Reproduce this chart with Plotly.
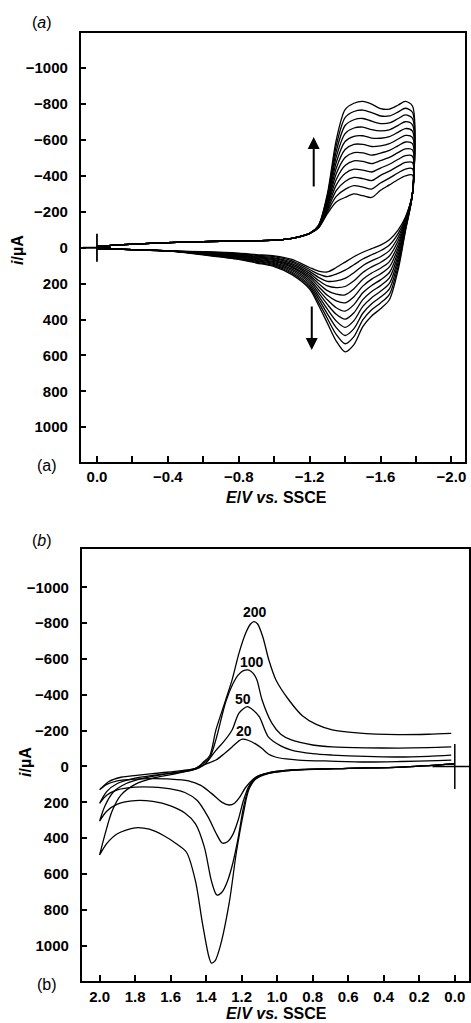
import plotly.graph_objects as go

# ---------------- Panel (a): repeated cycles (film growth) ----------------
a_foot_E = [0.0, -0.2, -0.4, -0.6, -0.8, -1.0, -1.1, -1.2]
a_foot_i = [-8, -20, -28, -34, -38, -42, -52, -80]

a_up_E = [-1.25, -1.30, -1.35, -1.40, -1.45, -1.50, -1.55, -1.60, -1.65, -1.70, -1.74, -1.78]
a_up_i = [
    [-110, -190, -255, -280, -300, -290, -280, -320, -350, -380, -400, -405],
    [-111, -200, -286, -325, -346, -338, -327, -361, -388, -418, -438, -440],
    [-113, -210, -318, -369, -392, -385, -374, -403, -427, -455, -475, -475],
    [-114, -220, -349, -414, -438, -433, -422, -444, -465, -493, -513, -510],
    [-115, -230, -380, -458, -484, -481, -469, -485, -503, -531, -551, -545],
    [-117, -240, -412, -503, -530, -529, -516, -527, -542, -569, -589, -580],
    [-118, -250, -443, -547, -576, -576, -564, -568, -580, -606, -626, -615],
    [-120, -260, -475, -592, -621, -624, -611, -610, -619, -644, -664, -650],
    [-121, -270, -506, -636, -667, -672, -658, -651, -657, -682, -702, -685],
    [-122, -280, -537, -681, -713, -720, -705, -692, -695, -720, -740, -720],
    [-124, -290, -569, -725, -759, -767, -753, -734, -734, -757, -777, -755],
    [-125, -300, -600, -770, -805, -815, -800, -775, -772, -795, -815, -790],
]

a_down_E = [-1.78, -1.74, -1.70, -1.65, -1.60, -1.55, -1.50, -1.45, -1.40, -1.35,
            -1.30, -1.25, -1.20, -1.10, -1.00, -0.90, -0.80, -0.60]
a_down_i = [
    [-300, -170, -100, -45, -15, 5, 25, 50, 80, 110, 135, 130, 110, 65, 45, 38, 30, 22],
    [-300, -163, -80, -15, 17, 39, 63, 95, 125, 147, 161, 147, 121, 73, 50, 42, 33, 24],
    [-300, -155, -60, 16, 50, 73, 100, 139, 171, 185, 187, 165, 132, 80, 56, 47, 36, 25],
    [-300, -148, -40, 46, 82, 107, 138, 184, 216, 222, 213, 182, 143, 88, 61, 51, 40, 27],
    [-300, -141, -20, 77, 114, 141, 176, 228, 262, 259, 239, 199, 154, 96, 67, 55, 43, 29],
    [-300, -134, 0, 107, 146, 175, 214, 273, 307, 296, 265, 216, 165, 104, 72, 59, 46, 30],
    [-300, -126, 20, 138, 179, 210, 251, 317, 353, 334, 290, 234, 175, 111, 78, 64, 49, 32],
    [-300, -119, 40, 168, 211, 244, 289, 362, 398, 371, 316, 251, 186, 119, 83, 68, 52, 34],
    [-300, -112, 60, 199, 243, 278, 327, 406, 444, 408, 342, 268, 197, 127, 89, 72, 55, 35],
    [-300, -105, 80, 229, 275, 312, 365, 451, 489, 445, 368, 285, 208, 135, 94, 76, 59, 37],
    [-300, -97, 100, 260, 308, 346, 402, 495, 535, 483, 394, 303, 219, 142, 100, 81, 62, 38],
    [-300, -90, 120, 290, 340, 380, 440, 540, 580, 520, 420, 320, 230, 150, 105, 85, 65, 40],
]
a_tail_E = [-0.4, -0.2, 0.0]
a_tail_i = [18, 11, 5]

a_cross_E = [0.0]
a_cross_i = [0]
a_arrow_up = dict(E=-1.223, i_from=-333, i_to=-617)
a_arrow_down = dict(E=-1.212, i_from=319, i_to=570)

# ---------------- Panel (b): scan-rate series ----------------
b_rates = ["20", "50", "100", "200"]

b20_fwd_E = [2.0, 1.96, 1.9, 1.8, 1.7, 1.6, 1.5, 1.43, 1.37, 1.31, 1.27, 1.24, 1.21, 1.18, 1.14, 1.1, 1.0, 0.9, 0.6, 0.3, 0.0]
b20_fwd_i = [130, 100, 80, 70, 68, 70, 80, 105, 150, 200, 215, 205, 170, 120, 75, 50, 30, 20, 10, 3, -15]
b20_rev_E = [2.0, 1.95, 1.88, 1.78, 1.65, 1.55, 1.46, 1.41, 1.345, 1.30, 1.254, 1.22, 1.196, 1.16, 1.12, 1.085, 1.05, 1.01, 0.95, 0.88, 0.7, 0.5, 0.3, 0.1, 0.02]
b20_rev_i = [130, 85, 60, 48, 35, 25, 10, -10, -36, -70, -109, -140, -153, -145, -125, -100, -70, -53, -42, -36, -30, -25, -28, -33, -36]

b50_fwd_E = [2.0, 1.96, 1.9, 1.8, 1.7, 1.6, 1.52, 1.45, 1.39, 1.34, 1.31, 1.28, 1.25, 1.22, 1.19, 1.16, 1.12, 1.05, 0.9, 0.6, 0.3, 0.0]
b50_fwd_i = [205, 160, 130, 115, 115, 125, 145, 190, 280, 380, 427, 420, 380, 300, 190, 110, 60, 35, 18, 10, 3, -15]
b50_rev_E = [2.0, 1.96, 1.9, 1.8, 1.7, 1.6, 1.5, 1.44, 1.40, 1.345, 1.30, 1.254, 1.215, 1.168, 1.13, 1.10, 1.05, 0.98, 0.92, 0.8, 0.69, 0.5, 0.32, 0.15, 0.02]
b50_rev_i = [205, 140, 95, 65, 50, 38, 25, 8, -20, -90, -140, -204, -298, -334, -310, -277, -165, -115, -92, -72, -64, -56, -53, -57, -64]

b100_fwd_E = [2.0, 1.96, 1.9, 1.8, 1.7, 1.6, 1.52, 1.46, 1.41, 1.37, 1.34, 1.31, 1.28, 1.25, 1.22, 1.19, 1.16, 1.12, 1.05, 0.9, 0.6, 0.3, 0.0]
b100_fwd_i = [305, 250, 210, 190, 195, 220, 260, 320, 450, 640, 717, 700, 640, 540, 400, 230, 120, 65, 35, 18, 10, 3, -15]
b100_rev_E = [2.0, 1.97, 1.92, 1.85, 1.75, 1.65, 1.55, 1.47, 1.42, 1.38, 1.345, 1.29, 1.25, 1.22, 1.19, 1.159, 1.135, 1.114, 1.085, 1.03, 0.98, 0.92, 0.8, 0.69, 0.5, 0.32, 0.15, 0.02]
b100_rev_i = [305, 220, 140, 95, 65, 45, 30, 15, -15, -50, -150, -360, -460, -510, -535, -538, -520, -483, -371, -242, -180, -148, -120, -109, -104, -103, -105, -109]

b200_fwd_E = [2.0, 1.96, 1.9, 1.8, 1.72, 1.64, 1.57, 1.51, 1.46, 1.42, 1.385, 1.37, 1.35, 1.32, 1.27, 1.23, 1.19, 1.16, 1.12, 1.05, 0.9, 0.6, 0.3, 0.0]
b200_fwd_i = [494, 430, 375, 342, 350, 385, 430, 480, 640, 880, 1060, 1097, 1085, 1000, 760, 480, 260, 130, 70, 40, 20, 10, 3, -15]
b200_rev_E = [2.0, 1.97, 1.93, 1.88, 1.8, 1.7, 1.6, 1.5, 1.45, 1.42, 1.38, 1.345, 1.29, 1.254, 1.215, 1.177, 1.15, 1.131, 1.11, 1.08, 1.047, 1.007, 0.934, 0.86, 0.78, 0.69, 0.55, 0.32, 0.15, 0.02]
b200_rev_i = [494, 380, 250, 160, 100, 65, 45, 25, 10, -20, -60, -204, -371, -483, -633, -745, -795, -808, -795, -720, -594, -483, -371, -285, -235, -205, -188, -178, -180, -185]

b_label_E = [1.187, 1.19, 1.14, 1.125]
b_label_i = [-198, -377, -585, -860]

b_cross_E = [0.0]
b_cross_i = [0]

# ---------------- figure ----------------
W, H = 471, 1023
FONT = "Arial, Liberation Sans, sans-serif"
LW = 1.3

fig = go.Figure()

for k in range(len(a_up_i)):
    fig.add_trace(go.Scatter(
        x=a_foot_E + a_up_E + a_down_E + a_tail_E,
        y=a_foot_i + a_up_i[k] + a_down_i[k] + a_tail_i,
        mode="lines", line=dict(color="black", width=LW, shape="spline", smoothing=0.8),
        xaxis="x", yaxis="y", showlegend=False, hoverinfo="skip"))

fig.add_trace(go.Scatter(x=a_cross_E, y=a_cross_i, mode="markers",
                         marker=dict(symbol="cross-thin", size=20, line=dict(color="black", width=1.8)),
                         xaxis="x", yaxis="y", showlegend=False, hoverinfo="skip"))

b_series = [
    (b20_fwd_E, b20_fwd_i, b20_rev_E, b20_rev_i),
    (b50_fwd_E, b50_fwd_i, b50_rev_E, b50_rev_i),
    (b100_fwd_E, b100_fwd_i, b100_rev_E, b100_rev_i),
    (b200_fwd_E, b200_fwd_i, b200_rev_E, b200_rev_i),
]
for fE, fi, rE, ri in b_series:
    fig.add_trace(go.Scatter(
        x=fE[::-1] + rE, y=fi[::-1] + ri,
        mode="lines", line=dict(color="black", width=LW, shape="spline", smoothing=0.8),
        xaxis="x2", yaxis="y2", showlegend=False, hoverinfo="skip"))

fig.add_trace(go.Scatter(x=b_cross_E, y=b_cross_i, mode="markers",
                         marker=dict(symbol="cross-thin", size=32, line=dict(color="black", width=1.5)),
                         xaxis="x2", yaxis="y2", showlegend=False, hoverinfo="skip"))

tickfont = dict(family=FONT, size=15, color="black", weight="bold")
axis_common = dict(showline=True, linecolor="black", linewidth=1.5, mirror=True,
                   ticks="inside", ticklen=6, tickwidth=1.5, tickcolor="black",
                   showgrid=False, zeroline=False, tickfont=tickfont)

fig.update_layout(
    width=W, height=H, margin=dict(l=0, r=0, t=0, b=0),
    paper_bgcolor="white", plot_bgcolor="white",
    xaxis=dict(domain=[81 / W, 466.7 / W], range=[0.092, -2.075], anchor="y",
               tickmode="linear", tick0=0, dtick=0.4, tickformat=".1f",
               minor=dict(dtick=0.2, tick0=0, ticks="inside", ticklen=6, tickwidth=1.5, tickcolor="black"),
               ticklabelstandoff=1, **axis_common),
    yaxis=dict(domain=[1 - 461.7 / H, 1 - 32.7 / H], range=[1192, -1198], anchor="x",
               tickmode="array", tickvals=list(range(-1000, 1001, 200)),
               ticklabelstandoff=8, **axis_common),
    xaxis2=dict(domain=[82 / W, 1.0], range=[2.101, -0.08], anchor="y2",
                tickmode="linear", tick0=0, dtick=0.2, tickformat=".1f",
                ticklabelstandoff=1, **axis_common),
    yaxis2=dict(domain=[1 - 981 / H, 1 - 549.3 / H], range=[1197, -1212], anchor="x2",
                tickmode="array", tickvals=list(range(-1000, 1001, 200)),
                ticklabelstandoff=8, **axis_common),
)

def ptxt(text, px, py, size=16, angle=0, weight="bold"):
    fig.add_annotation(text=text, x=px / W, y=1 - py / H, xref="paper", yref="paper",
                       showarrow=False, textangle=angle, xanchor="center", yanchor="middle",
                       font=dict(family=FONT, size=size, color="black", weight=weight))

ptxt("(<i>a</i>)", 42, 23, weight="normal")
ptxt("(a)", 47, 465, weight="normal")
ptxt("<i>i</i>/µA", 17, 250, angle=-90)
ptxt("<i>E</i>/<i>V</i> <i>vs.</i> SSCE", 278, 497)
ptxt("(<i>b</i>)", 42, 540, weight="normal")
ptxt("(b)", 47, 984, weight="normal")
ptxt("<i>i</i>/µA", 25, 762, angle=-90)
ptxt("<i>E</i>/<i>V</i> <i>vs.</i> SSCE", 278, 1013)

for arr in (a_arrow_up, a_arrow_down):
    fig.add_annotation(x=arr["E"], y=arr["i_to"], ax=arr["E"], ay=arr["i_from"],
                       xref="x", yref="y", axref="x", ayref="y", text="",
                       showarrow=True, arrowhead=2, arrowsize=1.2, arrowwidth=2, arrowcolor="black")

for lab, e, i in zip(b_rates, b_label_E, b_label_i):
    fig.add_annotation(x=e, y=i, xref="x2", yref="y2", text=lab, showarrow=False,
                       font=dict(family=FONT, size=14, color="black", weight="bold"))

fig.write_html("out.html", config={"displayModeBar": False},
               post_script="document.body.style.margin='0';document.body.style.overflow='hidden';")
